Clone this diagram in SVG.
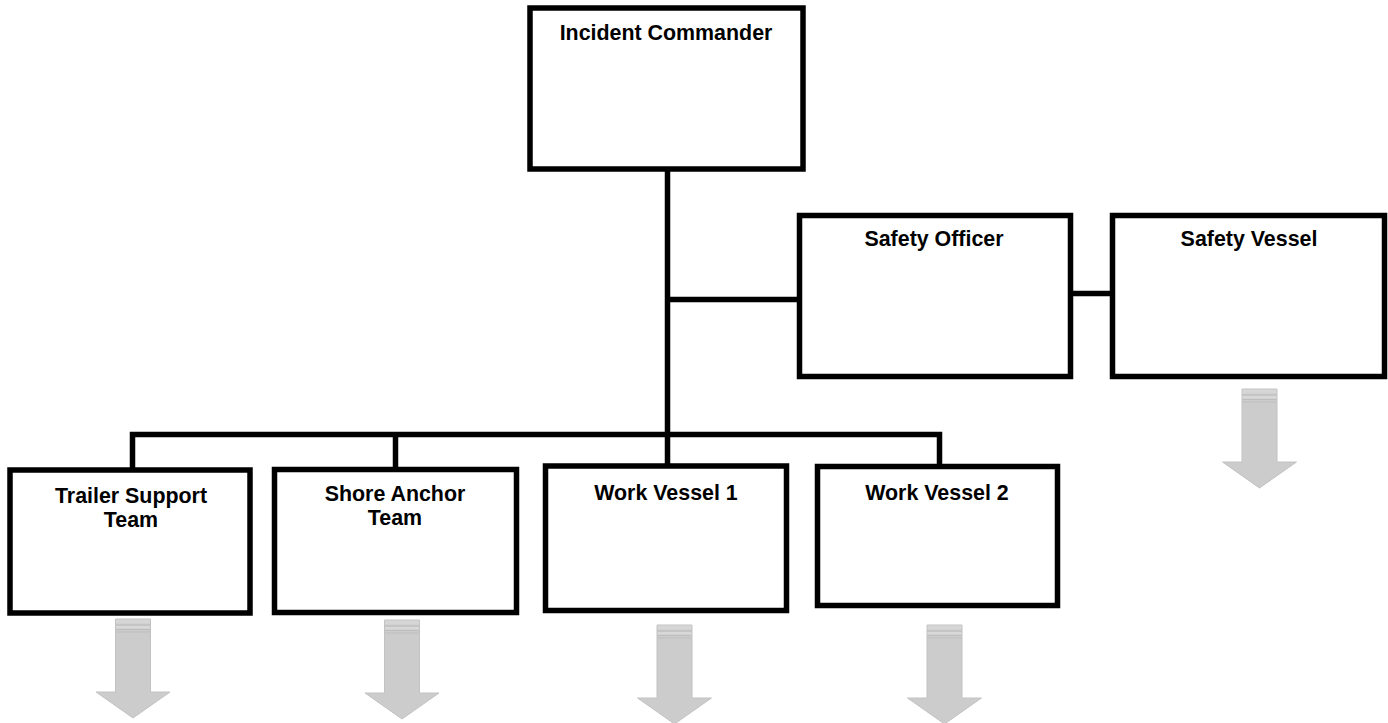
<svg xmlns="http://www.w3.org/2000/svg" width="1388" height="723" viewBox="0 0 1388 723">
<style>
.box{fill:#fff;stroke:#000;stroke-width:5.5}
.con{fill:none;stroke:#000;stroke-width:5.5}
.lbl{font-family:"Liberation Sans",Arial,sans-serif;font-weight:bold;font-size:21.4px;text-anchor:middle;fill:#000}
.shaft{fill:#cccccc;stroke:#c2c2c2;stroke-width:1}
.band{fill:#d6d6d6}
.line{stroke:#bdbdbd;stroke-width:1.2}
</style>
<defs>
<g id="arrow">
<path class="shaft" d="M-17.5,0 H17.5 V73 H37 L0,99 L-37,73 H-17.5 Z"/>
<rect class="band" x="-17" y="0.5" width="34" height="4"/>
<line class="line" x1="-17" y1="6" x2="17" y2="6"/>
<rect x="-17" y="7" width="34" height="2.5" fill="#d8d8d8"/>
<line class="line" x1="-17" y1="10.5" x2="17" y2="10.5"/>
<line class="line" x1="-17" y1="13" x2="17" y2="13"/>
</g>
</defs>
<rect width="1388" height="723" fill="#fff"/>
<g id="connectors">
<line class="con" x1="667.5" y1="169" x2="667.5" y2="466"/>
<line class="con" x1="667.5" y1="299.5" x2="799.5" y2="299.5"/>
<line class="con" x1="1070.5" y1="293.5" x2="1112.5" y2="293.5"/>
<polyline class="con" points="132.5,470 132.5,434.5 939.5,434.5 939.5,466.5"/>
<line class="con" x1="395.5" y1="434.5" x2="395.5" y2="469.5"/>
</g>
<g id="incident-commander">
<rect class="box" x="530" y="8" width="273" height="161"/>
<text class="lbl" x="666" y="40">Incident Commander</text>
</g>
<g id="safety-officer">
<rect class="box" x="799.5" y="215.5" width="271" height="161"/>
<text class="lbl" x="934" y="246">Safety Officer</text>
</g>
<g id="safety-vessel">
<rect class="box" x="1112.5" y="215.5" width="272" height="161"/>
<text class="lbl" x="1249" y="246">Safety Vessel</text>
</g>
<g id="trailer-support-team">
<rect class="box" x="10" y="470" width="240" height="143"/>
<text class="lbl" x="131" y="503">Trailer Support</text>
<text class="lbl" x="131" y="527">Team</text>
</g>
<g id="shore-anchor-team">
<rect class="box" x="274.5" y="469.5" width="242" height="143"/>
<text class="lbl" x="395" y="501">Shore Anchor</text>
<text class="lbl" x="395" y="525">Team</text>
</g>
<g id="work-vessel-1">
<rect class="box" x="545.5" y="466" width="241" height="144.5"/>
<text class="lbl" x="666" y="500">Work Vessel 1</text>
</g>
<g id="work-vessel-2">
<rect class="box" x="817.5" y="466.5" width="240" height="139"/>
<text class="lbl" x="937" y="500">Work Vessel 2</text>
</g>
<g id="arrows">
<use href="#arrow" x="1259.5" y="389"/>
<use href="#arrow" x="133" y="619"/>
<use href="#arrow" x="402" y="620"/>
<use href="#arrow" x="674.5" y="625"/>
<use href="#arrow" x="944.5" y="625"/>
</g>
</svg>
